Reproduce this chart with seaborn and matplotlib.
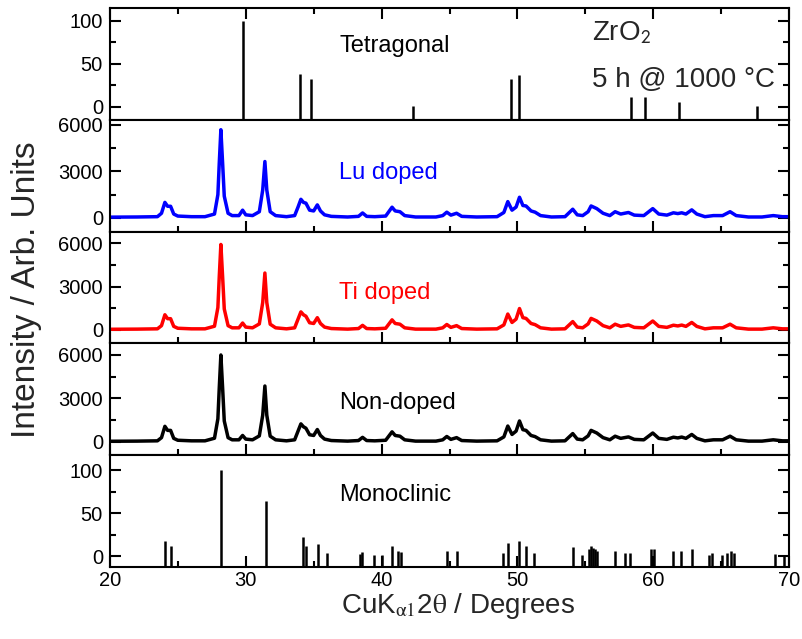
import matplotlib
matplotlib.use("Agg")
import matplotlib.pyplot as plt
import seaborn as sns
import pandas as pd
from matplotlib.ticker import MultipleLocator

# ---------------- data ----------------
tet_pos = [29.82, 34.02, 34.80, 42.33, 49.50, 50.12, 58.34, 59.37, 61.92, 67.62]
tet_int = [100, 38, 33, 1.5, 33, 37, 11, 12, 6, 1]

mono_pos = [24.05, 24.47, 28.17, 31.49, 34.20, 34.40, 35.34, 35.95, 38.38, 38.55,
            39.44, 40.03, 40.77, 41.18, 41.43, 44.84, 45.52, 48.96, 49.30, 50.14,
            50.63, 51.22, 54.12, 54.73, 55.30, 55.42, 55.54, 55.69, 55.88, 57.19,
            57.92, 58.29, 59.82, 60.06, 61.44, 62.05, 62.88, 64.08, 64.30, 65.04,
            65.40, 65.75, 65.95, 68.97, 69.63]
mono_int = [18, 12, 100, 64, 22, 12, 14, 3, 2, 5,
            1.5, 1.5, 12, 6, 5, 6, 6, 3, 15, 18,
            12, 4, 11, 1, 8, 12, 9, 8, 6, 6,
            4, 4, 8, 8, 6, 6, 8, 1, 3, 1,
            3, 6, 3, 2, 1]

two_theta = [20.0, 22.0, 23.5, 23.8, 24.05, 24.25, 24.47, 24.7, 25.0, 26.0,
             27.0, 27.7, 27.95, 28.05, 28.17, 28.3, 28.42, 28.7, 29.0, 29.5,
             29.77, 30.0, 30.5, 31.0, 31.25, 31.41, 31.55, 31.8, 32.2, 33.0,
             33.6, 33.85, 34.06, 34.25, 34.43, 34.7, 35.0, 35.27, 35.5, 35.8,
             36.3, 37.5, 38.3, 38.6, 38.9, 39.5, 40.3, 40.77, 41.0, 41.35,
             41.7, 42.5, 44.0, 44.5, 44.8, 45.1, 45.52, 45.9, 47.0, 48.5,
             49.0, 49.29, 49.6, 49.9, 50.15, 50.4, 50.63, 51.0, 51.3, 51.7,
             52.5, 53.5, 54.07, 54.4, 54.8, 55.2, 55.42, 55.84, 56.3, 56.8,
             57.19, 57.6, 58.17, 58.6, 59.3, 59.96, 60.4, 61.0, 61.48, 61.8,
             62.09, 62.4, 62.83, 63.2, 63.8, 64.42, 65.1, 65.65, 66.1, 67.0,
             68.0, 68.83, 69.5, 70.0]

lu_doped = [50, 60, 80, 300, 1000, 750, 750, 250, 120, 80,
            80, 250, 1500, 3500, 5680, 3500, 1400, 300, 150, 150,
            500, 200, 150, 400, 1800, 3630, 1800, 400, 150, 80,
            150, 700, 1200, 1000, 950, 500, 450, 840, 450, 200,
            100, 60, 100, 320, 100, 80, 120, 690, 450, 400,
            150, 60, 60, 150, 370, 180, 300, 100, 60, 80,
            350, 1050, 500, 700, 1330, 800, 770, 450, 370, 150,
            60, 80, 560, 200, 150, 400, 770, 600, 300, 150,
            400, 250, 350, 180, 150, 600, 250, 180, 330, 280,
            330, 250, 520, 250, 80, 150, 150, 400, 150, 60,
            60, 150, 80, 80]

ti_doped = [50, 60, 80, 300, 1050, 780, 780, 250, 120, 80,
            80, 260, 1550, 3650, 5900, 3650, 1450, 300, 150, 150,
            480, 200, 150, 420, 1900, 3930, 1900, 400, 150, 80,
            150, 750, 1250, 1050, 950, 500, 450, 850, 450, 200,
            100, 60, 100, 320, 100, 80, 120, 700, 450, 400,
            150, 60, 60, 150, 380, 180, 300, 100, 60, 80,
            350, 1100, 520, 750, 1480, 850, 800, 450, 370, 150,
            60, 80, 580, 200, 150, 420, 800, 620, 300, 150,
            400, 250, 350, 180, 150, 620, 250, 180, 330, 280,
            340, 250, 520, 250, 80, 150, 150, 400, 150, 60,
            60, 150, 80, 80]

non_doped = [50, 60, 80, 300, 1080, 800, 800, 250, 120, 80,
             80, 260, 1600, 3700, 6000, 3700, 1450, 300, 150, 150,
             450, 200, 150, 420, 1850, 3860, 1850, 400, 150, 80,
             150, 750, 1250, 1050, 950, 500, 450, 860, 450, 200,
             100, 60, 100, 320, 100, 80, 120, 700, 450, 400,
             150, 60, 60, 150, 380, 180, 300, 100, 60, 80,
             350, 1100, 520, 750, 1450, 850, 800, 450, 370, 150,
             60, 80, 580, 200, 150, 420, 800, 620, 300, 150,
             400, 250, 350, 180, 150, 620, 250, 180, 330, 280,
             340, 250, 520, 250, 80, 150, 150, 400, 150, 60,
             60, 150, 80, 80]

panel_labels = ["Tetragonal", "Lu doped", "Ti doped", "Non-doped", "Monoclinic"]
panel_colors = ["black", "#0000ff", "#ff0000", "black", "black"]

# ---------------- style ----------------
sns.set_theme(style="ticks")
plt.rcParams["font.family"] = ["Liberation Sans", "DejaVu Sans"]
plt.rcParams["mathtext.fontset"] = "stix"
plt.rcParams["axes.linewidth"] = 1.5
plt.rcParams["axes.edgecolor"] = "black"
plt.rcParams["xtick.color"] = "black"
plt.rcParams["ytick.color"] = "black"

fig, axes = plt.subplots(5, 1, sharex=True, figsize=(8.02, 6.39), dpi=100,
                         gridspec_kw=dict(hspace=0))
fig.subplots_adjust(left=0.137, right=0.984, top=0.9875, bottom=0.1127)

ylims = [(-15, 115), (-880, 6320), (-924, 6790), (-910, 6800), (-12.8, 117.7)]

# sticks
for ax, pos, inten, lim in [(axes[0], tet_pos, tet_int, ylims[0]),
                            (axes[4], mono_pos, mono_int, ylims[4])]:
    ax.vlines(pos, lim[0], inten, color="black", linewidth=1.8)

# measured patterns
for ax, ys, col in [(axes[1], lu_doped, panel_colors[1]),
                    (axes[2], ti_doped, panel_colors[2]),
                    (axes[3], non_doped, panel_colors[3])]:
    df = pd.DataFrame({"2theta": two_theta, "I": ys})
    sns.lineplot(data=df, x="2theta", y="I", ax=ax, color=col, linewidth=2.5,
                 estimator=None, sort=False)

for i, ax in enumerate(axes):
    ax.set_xlim(20, 70)
    ax.set_ylim(*ylims[i])
    ax.set_xlabel("")
    ax.set_ylabel("")
    ax.xaxis.set_major_locator(MultipleLocator(10))
    ax.xaxis.set_minor_locator(MultipleLocator(5))
    if i in (0, 4):
        ax.yaxis.set_major_locator(MultipleLocator(50))
        ax.yaxis.set_minor_locator(MultipleLocator(25))
    else:
        ax.yaxis.set_major_locator(MultipleLocator(3000))
        ax.yaxis.set_minor_locator(MultipleLocator(1500))
    ax.tick_params(which="both", direction="in", width=1.5, labelsize=14.5,
                   left=True, right=True,
                   top=(i == 0), bottom=(i != 0))
    ax.tick_params(which="major", length=8)
    ax.tick_params(which="minor", length=4.5)
    ax.tick_params(axis="y", pad=5)
    ax.tick_params(axis="x", pad=3)
    for s in ax.spines.values():
        s.set_visible(True)
        s.set_linewidth(1.5)

# panel labels (baseline positions in data units)
label_y = [64, 2500, 2140, 2280, 64]
for ax, lab, col, yy in zip(axes, panel_labels, panel_colors, label_y):
    ax.text(36.9, yy, lab, color=col, fontsize=17, ha="left", va="baseline")

axes[0].text(55.5, 77, r"ZrO$_\mathsf{2}$", fontsize=20, ha="left", va="baseline")
axes[0].text(55.5, 23, "5 h @ 1000 °C", fontsize=20, ha="left", va="baseline")

fig.text(27 / 802, 1 - 290 / 639, "Intensity / Arb. Units", rotation=90,
         fontsize=24, ha="center", va="center")
fig.text(458 / 802, 1 - 613 / 639,
         r"CuK$_{\mathrm{\alpha 1}}$2$\mathrm{\theta}$ / Degrees",
         fontsize=20, ha="center", va="baseline")

fig.savefig("out.png", dpi=100)
